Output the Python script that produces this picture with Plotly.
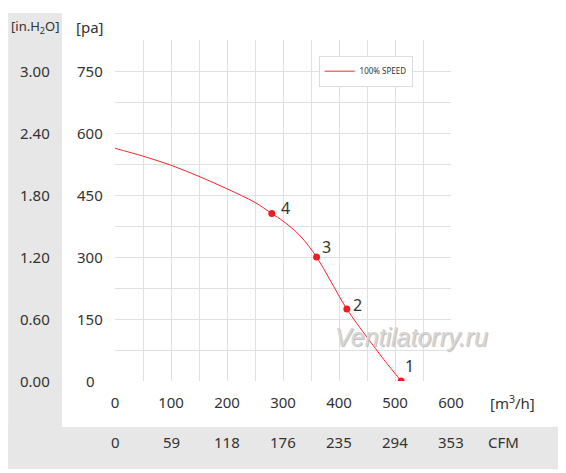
import plotly.graph_objects as go

# curve (m3/h vs Pa)
curve_flow = [0, 50, 100, 150, 200, 250, 280, 300, 330, 360, 385, 414, 450, 480, 511]
curve_pa = [563, 544, 522, 495, 465, 432, 405, 387, 352, 300, 242, 174, 106, 52, 0]

# numbered operating points
point_flow = [511, 414, 360, 280]
point_pa = [0, 174, 300, 405]
point_names = ["1", "2", "3", "4"]
label_shift = [(8, 15), (11, 4), (10, 10), (14, 6)]

flow_ticks = [0, 100, 200, 300, 400, 500, 600]
cfm_ticks = ["0", "59", "118", "176", "235", "294", "353"]
pa_ticks = [0, 150, 300, 450, 600, 750]
inh2o_ticks = ["0.00", "0.60", "1.20", "1.80", "2.40", "3.00"]

red = "#ee1c25"
grey = "#e6e7e6"
txt = "#333333"
font = "Noto Sans"

fig = go.Figure()

fig.add_trace(go.Scatter(
    x=curve_flow, y=curve_pa, mode="lines", name="100% SPEED",
    line=dict(color="#f5262e", width=1, shape="spline", smoothing=1),
))
fig.add_trace(go.Scatter(
    x=point_flow, y=point_pa, mode="markers", showlegend=False,
    marker=dict(color=red, size=7),
))

# grey bands behind the unit columns
fig.add_shape(type="rect", xref="paper", yref="paper", x0=-0.318, x1=-0.158,
              y0=-0.258, y1=1.079, fillcolor=grey, line_width=0, layer="below")
fig.add_shape(type="rect", xref="paper", yref="paper", x0=-0.318, x1=1.321,
              y0=-0.258, y1=-0.135, fillcolor=grey, line_width=0, layer="below")


def label(x, y, text, size=15, **kw):
    d = dict(x=x, y=y, text=text, showarrow=False, xanchor="center", yanchor="middle",
             font=dict(size=size, color=txt))
    d.update(kw)
    return d


ann = []
for f, p, n, (dx, dy) in zip(point_flow, point_pa, point_names, label_shift):
    ann.append(label(f, p, n, size=16, xshift=dx, yshift=dy))
for p, h in zip(pa_ticks, inh2o_ticks):
    ann.append(label(-0.238, p, h, xref="paper", yref="y"))
    ann.append(label(-0.0744, p, str(p), xref="paper", yref="y"))
for f, c in zip(flow_ticks, cfm_ticks):
    ann.append(label(f, -0.179, c, xref="x", yref="paper"))
ann += [
    label(-0.238, 1.038, "[in.H<sub>2</sub>O]", size=13, xref="paper", yref="paper"),
    label(-0.0744, 1.038, "[pa]", xref="paper", yref="paper"),
    label(1.182, -0.0645, "[m<sup>3</sup>/h]", xref="paper", yref="paper"),
    label(1.155, -0.179, "CFM", xref="paper", yref="paper"),
    dict(x=0.881, xref="paper", y=0.129, yref="paper", text="<i>Ventilatorry.ru</i>",
         showarrow=False, xanchor="center", yanchor="middle",
         font=dict(size=25, color="#d6d6d6", family="Liberation Sans",
                   shadow="1px 1px 1px #bbbbbb")),
]

fig.update_layout(
    width=566, height=473,
    margin=dict(l=107, r=123, t=32, b=100),
    paper_bgcolor="white", plot_bgcolor="white",
    font=dict(family=font, color=txt),
    annotations=ann,
    showlegend=True,
    legend=dict(x=0.606, y=0.954, xanchor="left", yanchor="top",
                bgcolor="white", bordercolor="#dddddd", borderwidth=1,
                font=dict(size=8, color=txt), itemwidth=30),
    xaxis=dict(range=[0, 600], tickvals=flow_ticks, showgrid=True, gridcolor="#e0e0e0",
               minor=dict(dtick=50, showgrid=True, gridcolor="#e0e0e0"),
               zeroline=False, showline=False, ticks="",
               tickfont=dict(size=15, color=txt), ticklabelstandoff=11),
    yaxis=dict(range=[0, 825], dtick=75, showgrid=True, gridcolor="#e0e0e0",
               zeroline=False, showline=False, showticklabels=False),
)

fig.write_html("out.html")
